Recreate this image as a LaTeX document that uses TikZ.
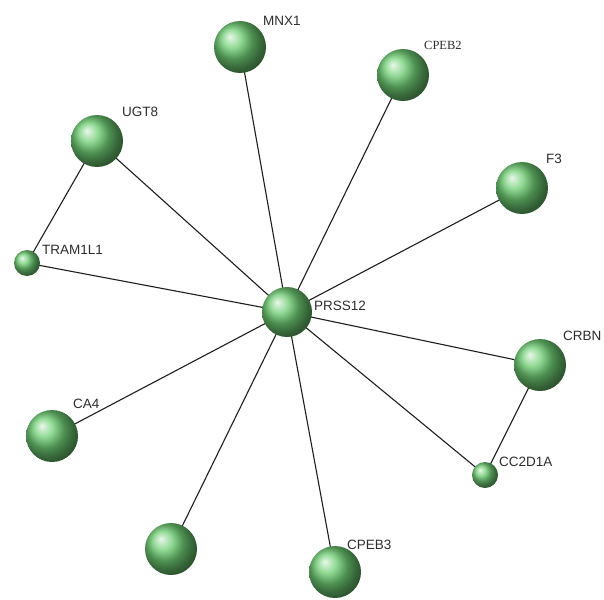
\documentclass[tikz,border=0pt]{standalone}
\usepackage{fontspec}
\setmainfont{Liberation Sans}
\newfontfamily\serifface{Liberation Serif}
\usetikzlibrary{backgrounds}
\definecolor{nodegreen}{RGB}{110,205,115}
\definecolor{edgecol}{RGB}{30,30,30}
\definecolor{labelcol}{RGB}{45,45,45}
\begin{document}
\begin{tikzpicture}[x=1pt,y=-1pt,
  gene/.style={circle,inner sep=0pt,minimum size=52pt,shading=ball,ball color=nodegreen},
  smallgene/.style={gene,minimum size=26pt},
  hub/.style={gene,minimum size=50pt},
  lbl/.style={anchor=west,inner sep=0pt,text=labelcol,font=\fontsize{13.5}{15}\selectfont},
  link/.style={draw=edgecol,line width=1.1pt}]
\useasboundingbox (0,0) rectangle (604,599);
% nodes
\node[hub] (prss12) at (287,312) {};
\node[gene] (mnx1) at (240,47) {};
\node[gene] (cpeb2) at (403,75) {};
\node[gene] (ugt8) at (97,141) {};
\node[gene] (f3) at (522,188) {};
\node[smallgene] (tram) at (27,263) {};
\node[gene] (crbn) at (540,365) {};
\node[gene] (ca4) at (52,436) {};
\node[smallgene] (cc2d1a) at (485,475) {};
\node[gene] (unnamed) at (171,549) {};
\node[gene] (cpeb3) at (335,572) {};
% labels
\node[lbl] (lprss12) at (314,306) {PRSS12};
\node[lbl] (lmnx1) at (263,21) {MNX1};
\node[lbl,font=\serifface\fontsize{12.5}{14}\selectfont] (lcpeb2) at (424,45) {CPEB2};
\node[lbl] (lugt8) at (122,112) {UGT8};
\node[lbl] (lf3) at (546,159) {F3};
\node[lbl] (ltram) at (42,250) {TRAM1L1};
\node[lbl] (lcrbn) at (563,336) {CRBN};
\node[lbl] (lca4) at (73,404) {CA4};
\node[lbl] (lcc2d1a) at (499,462) {CC2D1A};
\node[lbl] (lcpeb3) at (347,545) {CPEB3};
% edges
\begin{pgfonlayer}{background}
\fill[white] (0,0) rectangle (604,599);
\foreach \t in {mnx1,cpeb2,ugt8,f3,tram,crbn,ca4,cc2d1a,unnamed,cpeb3}
  \draw[link] (prss12.center) -- (\t.center);
\draw[link] (ugt8.center) -- (tram.center);
\draw[link] (crbn.center) -- (cc2d1a.center);
\end{pgfonlayer}
\end{tikzpicture}
\end{document}
